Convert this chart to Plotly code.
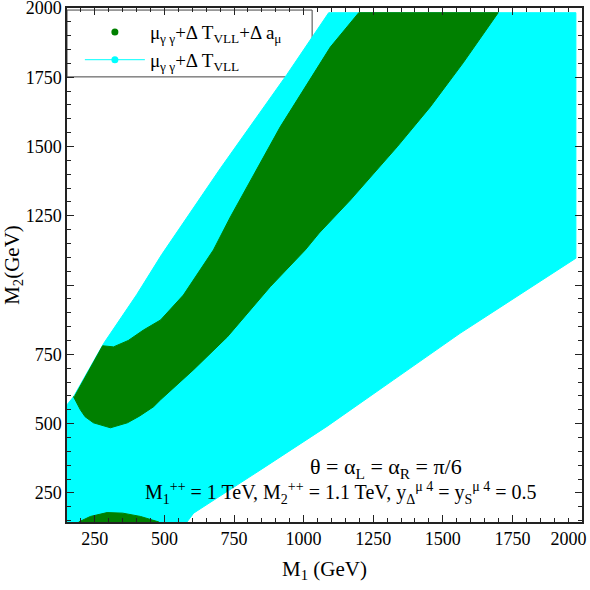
import plotly.graph_objects as go

# ---- data (boundaries of allowed regions) ----
cyan_x = [140, 150, 174, 230, 282, 400, 490, 700, 940, 1090, 1978, 1978, 1802, 1562, 1323, 1084, 845, 605, 581, 578]
cyan_y = [140, 568, 598, 695, 790, 965, 1110, 1420, 1760, 1983, 1983, 1097, 983, 826, 658, 490, 333, 177, 145, 140]

green_x = [177, 278, 317, 370, 425, 486, 568, 676, 737, 916, 1096, 1193, 1198, 1699, 1573, 1455, 1336,
           1168, 1056, 1006, 880, 726, 604, 486, 461, 410, 367, 306, 245, 215, 198, 173]
green_y = [598, 781, 777, 800, 838, 874, 964, 1127, 1246, 1571, 1859, 1975, 1983, 1983, 1802, 1643, 1499,
           1307, 1188, 1127, 994, 813, 694, 586, 561, 527, 503, 485, 503, 525, 550, 598]

blob_x = [188, 192, 234, 294, 350, 414, 480, 486]
blob_y = [140, 145, 165, 179, 177, 165, 145, 140]

x_tick_vals = [250, 500, 750, 1000, 1250, 1500, 1750, 2000]
x_tick_text = ["250", "500", "750", "1000", "1250", "1500", "1750", "2000\u2007\u2007\u2007"]
y_tick_vals = [250, 500, 750, 1000, 1250, 1500, 1750, 2000]
y_tick_text = ["250", "500", "750", "", "1250", "1500", "1750", "2000"]

label_full = "μ<sub>γ γ</sub>+Δ T<sub>VLL</sub>+Δ a<sub>μ</sub>"
label_t = "μ<sub>γ γ</sub>+Δ T<sub>VLL</sub>"

GREEN = "#008000"
CYAN = "#00FFFF"
FONT = "Liberation Serif"

fig = go.Figure()
fig.add_trace(go.Scatter(x=cyan_x, y=cyan_y, fill="toself", fillcolor=CYAN, mode="lines",
                         line=dict(color=CYAN, width=1), showlegend=False, hoverinfo="skip"))
fig.add_trace(go.Scatter(x=green_x, y=green_y, fill="toself", fillcolor=GREEN, mode="lines",
                         line=dict(color=GREEN, width=1), showlegend=False, hoverinfo="skip"))
fig.add_trace(go.Scatter(x=blob_x, y=blob_y, fill="toself", fillcolor=GREEN, mode="lines",
                         line=dict(color=GREEN, width=1), showlegend=False, hoverinfo="skip"))
# legend entries
fig.add_trace(go.Scatter(x=[None], y=[None], mode="markers", name=label_full,
                         marker=dict(color=GREEN, size=7)))
fig.add_trace(go.Scatter(x=[None], y=[None], mode="lines+markers", name=label_t,
                         line=dict(color=CYAN, width=1), marker=dict(color=CYAN, size=7)))

axis_common = dict(
    showgrid=False, zeroline=False, showline=True, linecolor="#222", linewidth=1.5,
    mirror="allticks", ticks="inside", ticklen=7, tickwidth=1, tickcolor="#222",
    tickfont=dict(family=FONT, size=18, color="black"), automargin=False,
    ticklabeloverflow="allow",
    minor=dict(ticks="inside", ticklen=4, dtick=50, tick0=0, tickcolor="#222", tickwidth=1),
)

fig.update_layout(
    width=590, height=590,
    margin=dict(l=67, r=8, t=8, b=68),
    paper_bgcolor="white", plot_bgcolor="white",
    font=dict(family=FONT, color="black"),
    xaxis=dict(range=[150, 2000], tickvals=x_tick_vals, ticktext=x_tick_text,
               title=dict(text="M<sub>1</sub> (GeV)", font=dict(family=FONT, size=21), standoff=13),
               **axis_common),
    yaxis=dict(range=[145, 2000], tickvals=y_tick_vals, ticktext=y_tick_text,
               title=dict(text="M<sub>2</sub>(GeV)", font=dict(family=FONT, size=21), standoff=2),
               **axis_common),
    legend=dict(x=0.025, y=0.99, xanchor="left", yanchor="top", bgcolor="rgba(0,0,0,0)",
                borderwidth=0, itemwidth=60, font=dict(family=FONT, size=19, color="black")),
    shapes=[dict(type="rect", xref="paper", yref="paper", x0=0.0, x1=0.476, y0=0.866, y1=0.996,
                 line=dict(color="#444", width=1), fillcolor="white", layer="below")],
    annotations=[
        dict(text="θ = α<sub>L</sub> = α<sub>R</sub> = π/6", xref="paper", yref="paper",
             x=0.620, y=0.074, showarrow=False, font=dict(family=FONT, size=22)),
        dict(text="M<sub>1</sub><sup>++</sup> = 1 TeV, M<sub>2</sub><sup>++</sup> = 1.1 TeV, "
                  "y<sub>Δ</sub><sup>μ 4</sup> = y<sub>S</sub><sup>μ 4</sup> = 0.5",
             xref="paper", yref="paper", x=0.532, y=0.025, showarrow=False,
             font=dict(family=FONT, size=20)),
    ],
)

fig.write_html("out.html", config={"displayModeBar": False},
               post_script="document.body.style.margin='0';")
